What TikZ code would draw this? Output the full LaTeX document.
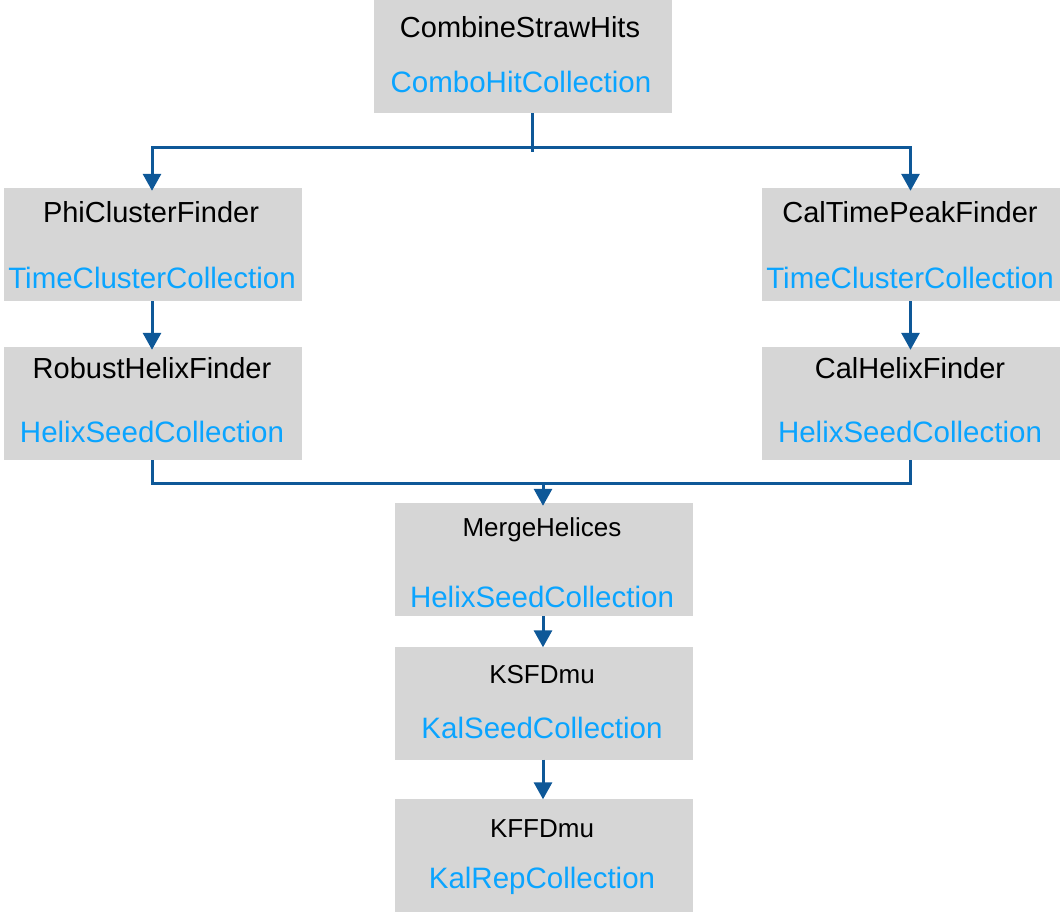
\documentclass[tikz,border=0pt]{standalone}
\usepackage{fontspec}
\setmainfont{Liberation Sans}
\usetikzlibrary{arrows.meta,positioning}

\definecolor{boxgray}{RGB}{214,214,214}
\definecolor{collblue}{RGB}{10,164,255}
\definecolor{linkblue}{RGB}{14,88,152}

\begin{document}
\begin{tikzpicture}[x=1pt,y=-1pt,
  stagebox/.style={fill=boxgray,minimum width=298pt,minimum height=113pt,inner sep=0pt},
  modname/.style={anchor=base,inner sep=0pt,font=\fontsize{29}{34}\selectfont},
  modsmall/.style={modname,font=\fontsize{26}{31}\selectfont},
  collname/.style={anchor=base,inner sep=0pt,text=collblue,font=\fontsize{29.5}{35}\selectfont},
  flow/.style={draw=linkblue,line width=3pt,-{Triangle[length=17pt,width=18pt]}},
  link/.style={draw=linkblue,line width=3pt}]
  \useasboundingbox (0,0) rectangle (1060,911);

  % --- Boxes ---
  \node[stagebox] (combine) at (523,56.5) {};
  \node[stagebox] (phi)     at (153,244.5) {};
  \node[stagebox] (caltp)   at (910.5,244.5) {};
  \node[stagebox] (robust)  at (153,403.5) {};
  \node[stagebox] (calhx)   at (910.5,403.5) {};
  \node[stagebox] (merge)   at (544,559.5) {};
  \node[stagebox] (ksf)     at (543.5,703) {};
  \node[stagebox] (kff)     at (543.5,855) {};

  % --- Module and collection names ---
  \node[modname]  (combine-mod)  at (520,37)  {CombineStrawHits};
  \node[collname] (combine-coll) at (521,92)  {ComboHitCollection};
  \node[modname]  (phi-mod)      at (151,222) {PhiClusterFinder};
  \node[collname] (phi-coll)     at (152,288) {TimeClusterCollection};
  \node[modname]  (caltp-mod)    at (910,222) {CalTimePeakFinder};
  \node[collname] (caltp-coll)   at (910,288) {TimeClusterCollection};
  \node[modname]  (robust-mod)   at (152,378) {RobustHelixFinder};
  \node[collname] (robust-coll)  at (152,442) {HelixSeedCollection};
  \node[modname]  (calhx-mod)    at (910,378) {CalHelixFinder};
  \node[collname] (calhx-coll)   at (910,442) {HelixSeedCollection};
  \node[modsmall] (merge-mod)    at (542,536) {MergeHelices};
  \node[collname] (merge-coll)   at (542,607) {HelixSeedCollection};
  \node[modsmall] (ksf-mod)      at (542,683) {KSFDmu};
  \node[collname] (ksf-coll)     at (542,738) {KalSeedCollection};
  \node[modsmall] (kff-mod)      at (542,837) {KFFDmu};
  \node[collname] (kff-coll)     at (542,888) {KalRepCollection};

  % --- Split after the hit combination ---
  \coordinate (split) at (532,147);
  \draw[link] (combine.south -| split) -- ([yshift=-5pt]split);
  \draw[flow] (split) -| ([xshift=-1pt,yshift=-3pt]phi.north);
  \draw[flow] (split) -| ([yshift=-3pt]caltp.north);

  % --- Two helix finding chains ---
  \draw[flow] ([xshift=-1pt]phi.south) -- ([xshift=-1pt,yshift=-3pt]robust.north);
  \draw[flow] (caltp.south) -- ([yshift=-3pt]calhx.north);

  % --- Merge and fit ---
  \coordinate (join) at (543,483);
  \draw[link] ([xshift=-1pt]robust.south) |- (join) -| (calhx.south);
  \draw[flow] (join) -- ([yshift=-3pt]join |- merge.north);
  \draw[flow] (merge.south -| join) -- ([yshift=-1pt]ksf.north -| join);
  \draw[flow] (ksf.south -| join) -- ([yshift=-1pt]kff.north -| join);
\end{tikzpicture}
\end{document}
